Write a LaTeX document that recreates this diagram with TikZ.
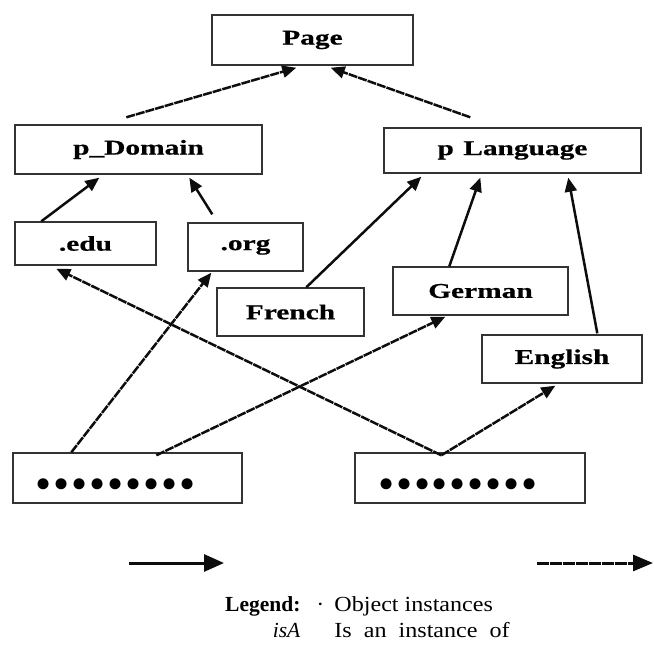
\documentclass[tikz,border=0pt]{standalone}
\usepackage{fontspec}
\setmainfont{Liberation Serif}
\newfontfamily\boxfont[FakeStretch=1.4,FakeBold=0.6]{Liberation Serif}
\newfontfamily\legendfont[FakeStretch=1.12]{Liberation Serif}
\newfontfamily\dotfont[LetterSpace=4]{Liberation Serif}
\usetikzlibrary{arrows.meta,calc}

\begin{document}
\begin{tikzpicture}[
  x=1pt, y=-1pt,
  box/.style={draw=black!80, line width=1.4pt, inner sep=0pt,
              font=\boxfont\bfseries\fontsize{21}{24}\selectfont},
  dots/.style={box, text height=43pt, text depth=0pt,
               font=\dotfont\fontsize{46}{50}\selectfont},
  isa/.style={-{Triangle[length=14pt,width=12pt]}, line width=2.5pt, black!95},
  inst/.style={isa, dash pattern=on 9pt off 1pt},
  legend/.style={inner sep=0pt, font=\fontsize{21.5}{26}\selectfont}
]
\useasboundingbox (0,0) rectangle (654,646);

% classes
\node[box, minimum width=201pt, minimum height=50pt] (page) at (312.5,40) {Page};
\node[box, minimum width=247pt, minimum height=49pt] (p-domain) at (138.5,149.5) {p\_Domain};
\node[box, minimum width=257pt, minimum height=45pt] (p-language) at (512.5,150.5) {p\hspace{0.45em}Language};
\node[box, minimum width=141pt, minimum height=43pt] (edu) at (85.5,243.5) {.edu};
\node[box, minimum width=115pt, minimum height=48pt] (org) at (245.5,247) {.org};
\node[box, minimum width=147pt, minimum height=48pt] (french) at (290.5,312) {French};
\node[box, minimum width=175pt, minimum height=48pt] (german) at (480.5,291) {German};
\node[box, minimum width=160pt, minimum height=48pt] (english) at (562,359) {English};

% object instances
\node[dots, minimum width=229pt, minimum height=50pt] (inst-left) at (127.5,478) {•••••••••\kern24pt};
\node[dots, minimum width=230pt, minimum height=50pt] (inst-right) at (470,478) {•••••••••\kern24pt};

\draw[inst] ($(p-domain.north west)+(112,-7)$) -- ($(page.south west)+(85,2)$);
\draw[inst] ($(p-language.north west)+(87,-10)$) -- ($(page.south east)+(-83,2)$);

\draw[isa] ($(edu.north west)+(27,0)$) -- ($(p-domain.south west)+(85,3)$);
\draw[isa] ($(org.north west)+(25,-8)$) -- ($(p-domain.south west)+(175,3)$);
\draw[isa] ($(french.north west)+(90,0)$) -- ($(p-language.south west)+(38,3)$);
\draw[isa] ($(german.north west)+(57,0)$) -- ($(p-language.south west)+(97,4)$);
\draw[isa] ($(english.north west)+(116,-1)$) -- ($(p-language.south west)+(185,4)$);

\draw[inst] ($(inst-left.north west)+(59,0)$) -- ($(org.south west)+(24,1)$);
\draw[inst] ($(inst-left.north west)+(144,3)$) -- ($(german.south west)+(53,1)$);
\draw[inst] ($(inst-right.north west)+(87,3)$) -- ($(edu.south west)+(42,3)$);
\draw[inst] ($(inst-right.north west)+(87,3)$) -- ($(english.south west)+(74,2)$);

% legend
\coordinate (isa-from) at (129,563);
\coordinate (isa-to) at (224,563);
\coordinate (inst-from) at (537,563);
\coordinate (inst-to) at (653,563);
\draw[isa, line width=3pt, -{Triangle[length=20pt,width=17pt]}] (isa-from) -- (isa-to);
\draw[inst, line width=3pt, dash pattern=on 12pt off 1pt, -{Triangle[length=20pt,width=16pt]}] (inst-from) -- (inst-to);

\node[legend, anchor=base west] (legend) at (225,611)
  {\begin{tabular}[t]{@{}r@{\hspace{34pt}}l@{}}
   \textbf{Legend:} & {\legendfont\llap{·\hspace{10pt}}Object instances}\\
   \textit{isA} & {\legendfont Is\ \ an\ \ instance\ \ of}
   \end{tabular}};
\end{tikzpicture}
\end{document}
